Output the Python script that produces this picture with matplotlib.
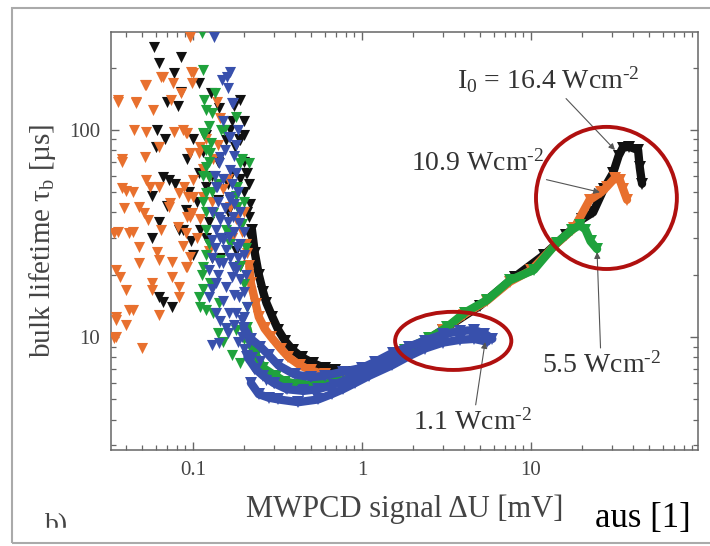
import matplotlib
matplotlib.use('Agg')
import matplotlib.pyplot as plt
from matplotlib.patches import Ellipse, Rectangle
from matplotlib.ticker import FuncFormatter, NullFormatter

plt.rcParams['font.family'] = 'Liberation Serif'
plt.rcParams['mathtext.fontset'] = 'custom'
plt.rcParams['mathtext.rm'] = 'Liberation Serif'
plt.rcParams['mathtext.it'] = 'Liberation Serif:italic'

# ---- data (MWPCD signal in mV, bulk lifetime in us) ----
# I0 = 16.4 W/cm2 (black)
blk_sx = [0.059, 0.085, 0.063, 0.077, 0.108, 0.085, 0.127, 0.070, 0.081, 0.143,
          0.061, 0.068, 0.060, 0.100, 0.115, 0.186, 0.066, 0.078, 0.108, 0.120,
          0.205, 0.200, 0.057, 0.070, 0.091, 0.213, 0.063, 0.083, 0.110, 0.213,
          0.057, 0.097, 0.063, 0.075, 0.066, 0.156, 0.178, 0.170, 0.140, 0.160,
          0.125, 0.150, 0.180, 0.190, 0.130, 0.095, 0.140, 0.165, 0.072, 0.092,
          0.087, 0.190, 0.200, 0.208, 0.217, 0.200, 0.215, 0.210, 0.220, 0.190,
          0.160, 0.120, 0.130, 0.105, 0.170, 0.200, 0.175, 0.190, 0.100, 0.120,
          0.145]
blk_sy = [252, 225, 210, 188, 169, 152, 151, 137, 130, 128,
          100, 90, 83, 90, 78, 90, 59, 55, 62, 53,
          62, 50, 48, 43, 41, 38, 36, 33, 33, 31,
          30, 29, 15.6, 14, 14.8, 89, 83, 62, 46, 40,
          36, 30, 26, 22, 24, 50, 70, 100, 57, 72,
          33, 89, 70, 62, 44, 95, 55, 40, 28, 58,
          55, 95, 60, 45, 110, 110, 130, 140, 25, 30,
          24]
blk_bx = [0.223, 0.232, 0.245, 0.26, 0.272, 0.295, 0.32, 0.35, 0.39, 0.44,
          0.51, 0.60, 0.69, 0.82, 0.95, 1.1, 1.5, 2.0, 3.0, 5.0,
          8.0, 12, 16, 20, 23.3, 27, 30.6, 33, 34.9, 38,
          43, 44, 45.4]
blk_by = [33, 25.5, 20, 16.5, 14.6, 12.5, 10.8, 9.6, 8.65, 8.0,
          7.5, 7.1, 6.9, 6.8, 6.8, 6.9, 7.8, 8.8, 10.8, 14.2,
          19.5, 25, 31, 37, 40, 52, 62, 75, 82, 83,
          80, 66, 55]

# 10.9 W/cm2 (orange)
org_sx = [0.036, 0.046, 0.053, 0.065, 0.097, 0.099, 0.085, 0.074, 0.045, 0.053,
          0.077, 0.091, 0.063, 0.038, 0.053, 0.038, 0.044, 0.063, 0.083, 0.039,
          0.048, 0.034, 0.042, 0.054, 0.072, 0.099, 0.091, 0.061, 0.035, 0.048,
          0.108, 0.124, 0.037, 0.040, 0.044, 0.035, 0.040, 0.034, 0.050, 0.063,
          0.057, 0.075, 0.083, 0.048, 0.063, 0.075, 0.091, 0.057, 0.083, 0.042,
          0.035, 0.035, 0.096, 0.066, 0.052, 0.076, 0.100, 0.036, 0.046, 0.058,
          0.138, 0.145, 0.087, 0.038, 0.096, 0.052, 0.040, 0.056, 0.100, 0.051,
          0.073, 0.094, 0.036, 0.044, 0.065, 0.081, 0.096, 0.115, 0.092, 0.110,
          0.131, 0.089, 0.100, 0.092, 0.110, 0.087, 0.096, 0.092, 0.166, 0.210,
          0.120, 0.130, 0.150, 0.105, 0.125, 0.160, 0.180, 0.195, 0.115, 0.140,
          0.200, 0.170, 0.205]
org_sy = [140, 135, 165, 180, 190, 169, 151, 140, 100, 98,
          98, 97, 83, 72, 57, 52.5, 50, 53, 49.6, 42,
          42.5, 31.8, 31.8, 36.8, 42.5, 39.7, 31.8, 25.7, 21, 22.8,
          77.5, 59, 19.5, 16.9, 13.5, 12.1, 11.4, 9.9, 8.85, 12.8,
          18.2, 19.5, 15.6, 27.2, 23.6, 23, 21.8, 16.9, 17.4, 13.5,
          12.5, 10, 281, 181, 165, 169, 188, 136, 136, 125,
          136, 114, 100, 70, 77.5, 74, 51, 53, 57, 39.7,
          44.5, 47.5, 32, 32, 33, 34, 38, 47.5, 97, 83,
          72, 53, 47.5, 38, 37, 27.5, 24.4, 21.8, 42.5, 25.5,
          90, 45, 52, 30, 26, 58, 37, 32, 65, 85,
          40, 30, 28]
org_bx = [0.215, 0.22, 0.235, 0.245, 0.265, 0.29, 0.33, 0.367, 0.43,
          0.50, 0.60, 0.69, 0.80, 0.95, 1.1, 1.5, 2.0, 3.0, 4.0,
          5.5, 7.5, 10, 14, 18, 22.2, 26, 28, 31.4, 33.6,
          35, 37]
org_by = [22, 18.2, 14.5, 12.5, 11, 10, 8.8, 8.0, 7.3,
          6.9, 6.6, 6.45, 6.4, 6.55, 6.8, 7.7, 8.8, 10.8, 12.8,
          15, 18.5, 21, 28, 33.6, 45.9, 50, 53, 58.7, 57,
          52, 46]

# 5.5 W/cm2 (green)
grn_sx = [0.113, 0.114, 0.116, 0.130, 0.146, 0.180, 0.116, 0.152, 0.128, 0.194,
          0.119, 0.213, 0.124, 0.119, 0.156, 0.113, 0.108, 0.119, 0.142, 0.179,
          0.114, 0.126, 0.190, 0.183, 0.120, 0.131, 0.183, 0.120, 0.166, 0.114,
          0.144, 0.126, 0.131, 0.240, 0.110, 0.120, 0.125, 0.115, 0.130, 0.115,
          0.140, 0.125, 0.120, 0.130, 0.115, 0.140, 0.150, 0.170, 0.190, 0.200,
          0.165, 0.195, 0.200, 0.180, 0.205, 0.125, 0.120, 0.135, 0.190, 0.200,
          0.210]
grn_sy = [295, 195, 140, 121, 100, 115, 95, 100, 86, 72,
          66, 69, 59, 40, 33, 20, 15.6, 13.5, 14.6, 10.8,
          97, 77.5, 69, 53, 49.6, 39.7, 42.5, 33, 31.8, 21.8,
          23.6, 18.2, 13.1, 8.65, 14, 80, 70, 60, 50, 45,
          55, 28, 25, 18, 17, 10.5, 9.5, 8.2, 7.5, 9.8,
          28, 35, 45, 48, 27, 105, 125, 150, 22, 18,
          14]
grn_bx = [0.21, 0.22, 0.235, 0.26, 0.308, 0.35, 0.438,
          0.55, 0.69, 0.85, 1.0, 1.3, 1.8, 2.5, 3.2, 4.04, 5.5,
          7.5, 10.4, 14.2, 17.5, 19.5, 21, 22.5, 24.6]
grn_by = [11, 9.2, 8.2, 7.1, 6.5, 6.1, 5.9,
          5.9, 6.06, 6.3, 6.6, 7.3, 8.7, 9.9, 11.2, 13.1, 15.1,
          18.8, 21.1, 28.5, 33, 34.8, 33, 29, 26.6]

# 1.1 W/cm2 (blue)
blu_sx = [0.133, 0.158, 0.148, 0.170, 0.163, 0.142, 0.179, 0.137, 0.163, 0.142,
          0.186, 0.137, 0.163, 0.129, 0.156, 0.142, 0.124, 0.179, 0.156, 0.137,
          0.124, 0.186, 0.137, 0.163, 0.194, 0.129, 0.142, 0.213, 0.222, 0.156,
          0.194, 0.166, 0.144, 0.166, 0.138, 0.166, 0.144, 0.172, 0.150, 0.183,
          0.150, 0.172, 0.166, 0.172, 0.230, 0.270, 0.300, 0.350, 0.450, 0.250,
          0.210, 0.135, 0.150, 0.170, 0.185, 0.140, 0.155, 0.175, 0.190, 0.130,
          0.160, 0.200, 0.135, 0.175, 0.190, 0.145, 0.200, 0.130, 0.165, 0.185,
          0.140, 0.170, 0.190, 0.205, 0.130, 0.150, 0.175, 0.200, 0.210, 0.145,
          0.180, 0.200, 0.160, 0.175, 0.185, 0.200, 0.155, 0.175, 0.185, 0.150,
          0.160, 0.180]
blu_sy = [281, 180, 175, 135, 92, 69, 62, 53, 47.5, 38,
          35.5, 33, 30.4, 29.4, 26.3, 22.8, 21, 21, 17.4, 18.2,
          15.6, 15.6, 13.1, 13.1, 12.1, 9.15, 9.35, 9.35, 8.0, 11.1,
          10, 92, 74, 64, 53, 46, 36.8, 38, 29.4, 27.2,
          22.8, 21.8, 190, 135, 7.0, 6.2, 6.0, 5.7, 5.6, 7.7,
          8.2, 60, 58, 55, 50, 45, 42, 44, 40, 40,
          36, 32, 27, 32, 28, 30, 25, 24, 24, 24,
          20, 19.5, 19, 20, 17, 15, 16, 16.5, 14, 12,
          13, 12.5, 10.5, 11.5, 9.5, 8.8, 80, 75, 100, 110,
          160, 85]
blu_ux = [0.20, 0.22, 0.25, 0.28, 0.32, 0.40, 0.50, 0.60, 0.77, 1.0,
          1.2, 1.52, 1.9, 2.35, 3.0, 3.8, 4.6, 5.3, 5.9]
blu_uy = [11, 9.8, 9.0, 8.2, 7.3, 6.6, 6.4, 6.5, 6.8, 7.1,
          7.6, 8.4, 9.0, 9.6, 10.3, 10.7, 10.8, 10.4, 9.8]
blu_mx = [0.21, 0.235, 0.26, 0.30, 0.36, 0.45, 0.55, 0.68, 0.85, 1.05,
          1.35, 1.7]
blu_my = [8.0, 7.0, 6.5, 6.0, 5.6, 5.5, 5.6, 5.9, 6.3, 6.8,
          7.5, 8.3]
blu_lx = [0.22, 0.245, 0.28, 0.32, 0.42, 0.55, 0.66, 0.77, 0.91, 1.1,
          1.5, 1.9, 2.35, 3.0, 3.8, 4.6, 5.5]
blu_ly = [6.0, 5.3, 5.1, 5.0, 4.85, 5.0, 5.3, 5.6, 6.0, 6.5,
          7.3, 8.1, 8.8, 9.4, 9.7, 9.8, 9.5]

c_blk = '#111111'
c_org = '#E8702E'
c_grn = '#1FA23C'
c_blu = '#3850AC'

fig = plt.figure(figsize=(7.1, 5.46), dpi=100)
ax = fig.add_axes([111 / 710, 1 - 450 / 546, 587 / 710, 418 / 546])
ax.set_xscale('log')
ax.set_yscale('log')
ax.set_xlim(0.0327, 97.3)
ax.set_ylim(2.85, 297)

def draw(sx, sy, bands, color, z):
    ax.scatter(sx, sy, marker='v', s=64, color=color, linewidths=0, zorder=z)
    for bx, by in bands:
        ax.plot(bx, by, '-', marker='v', ms=8, mew=0, lw=6, color=color,
                solid_joinstyle='round', solid_capstyle='round', zorder=z)

draw(blk_sx, blk_sy, [(blk_bx, blk_by)], c_blk, 2)
draw(org_sx, org_sy, [(org_bx, org_by)], c_org, 3)
draw(grn_sx, grn_sy, [(grn_bx, grn_by)], c_grn, 4)
draw(blu_sx, blu_sy, [(blu_ux, blu_uy), (blu_mx, blu_my), (blu_lx, blu_ly)], c_blu, 5)

# axes styling
for s in ax.spines.values():
    s.set_color('#666666')
    s.set_linewidth(1.1)
ax.tick_params(which='both', direction='in', top=True, right=True,
               colors='#666666', labelcolor='#444444', labelsize=15)
ax.tick_params(which='major', length=6, width=1, pad=8)
ax.tick_params(which='minor', length=3.5, width=0.9)
ax.xaxis.set_major_formatter(FuncFormatter(lambda v, p: f'{v:g}'))
ax.yaxis.set_major_formatter(FuncFormatter(lambda v, p: f'{v:g}'))
ax.xaxis.set_minor_formatter(NullFormatter())
ax.yaxis.set_minor_formatter(NullFormatter())

ax.set_xlabel('MWPCD signal ΔU [mV]', fontsize=22, color='#444444', labelpad=10)
ax.set_ylabel('bulk lifetime τ$_\\mathrm{b}$ [µs]', fontsize=21, color='#444444', labelpad=8)

# annotations
arrow = dict(arrowstyle='-|>', color='#555555', lw=0.8, mutation_scale=9,
             shrinkA=1, shrinkB=0)
txt = dict(fontsize=20, color='#333333', ha='center', va='center',
           arrowprops=arrow, zorder=30)
ax.annotate('I$_0$ = 16.4 Wcm$^{‐2}$', xy=(31.4, 80), xytext=(12.6, 175), **txt)
ax.annotate('10.9 Wcm$^{‐2}$', xy=(25.6, 50), xytext=(4.8, 69), **txt)
ax.annotate('5.5 Wcm$^{‐2}$', xy=(24.6, 25.7), xytext=(26, 7.3), **txt)
ax.annotate('1.1 Wcm$^{‐2}$', xy=(5.35, 9.46), xytext=(4.54, 3.88), **txt)

# red highlight ellipses
ax.add_patch(Ellipse((0.844, 0.603), 0.240, 0.340, transform=ax.transAxes,
                     fill=False, ec='#B0100F', lw=2.8, clip_on=False, zorder=40))
ax.add_patch(Ellipse((0.583, 0.261), 0.198, 0.139, transform=ax.transAxes,
                     fill=False, ec='#B0100F', lw=2.8, clip_on=False, zorder=40))

# panel letter, cut off at the bottom as in the source
fig.text(45 / 710, 1 - 513 / 546, 'b)', fontsize=20, color='#444444', va='top')
fig.add_artist(Rectangle((20 / 710, 5 / 546), 150 / 710, 13 / 546,
                         transform=fig.transFigure, color='white', zorder=10))
# right edge crop of the "100" tick label
fig.add_artist(Rectangle((700 / 710, 40 / 546), 12 / 710, 80 / 546,
                         transform=fig.transFigure, color='white', zorder=10))

fig.text(595 / 710, 19 / 546, 'aus [1]', fontsize=25, color='black', va='baseline')

# screenshot frame
fig.add_artist(Rectangle((12 / 710, 3 / 546), 0.995, 535 / 546,
                         transform=fig.transFigure, fill=False, ec='#AAAAAA',
                         lw=1.5, zorder=11))

fig.savefig('out.png', dpi=100)
